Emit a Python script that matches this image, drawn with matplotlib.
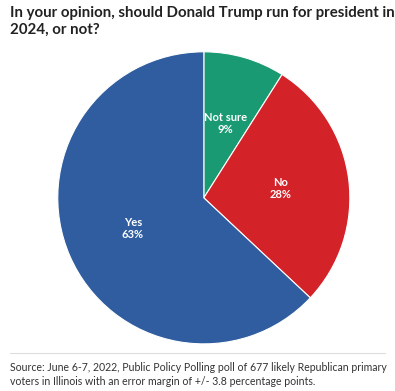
import matplotlib.pyplot as plt
import numpy as np

# ----------------------------------------------------------------------
#   Data
# ----------------------------------------------------------------------
labels  = ['Not sure', 'No', 'Yes']
values  = [9, 28, 63]
colors  = ['#1a9a72', '#d42229', '#2f5d9f']

title  = 'In your opinion, should Donald Trump run for president in\n2024, or not?'
source = ('Source: June 6-7, 2022, Public Policy Polling poll of 677 likely Republican primary\n'
          'voters in Illinois with an error margin of +/- 3.8 percentage points.')

plt.rcParams['font.family'] = ['Lato', 'DejaVu Sans']

fig = plt.figure(figsize=(3.95, 3.91), dpi=100)

ax = fig.add_axes([0.516 - 0.37, 0.494 - 0.3735, 0.74, 0.747])
wedges, _ = ax.pie(values, colors=colors, startangle=90, counterclock=False,
                   wedgeprops=dict(edgecolor='white', linewidth=0.8))
ax.set_xlim(-1, 1)
ax.set_ylim(-1, 1)
ax.set_aspect('equal')

# slice labels
for w, lab, v in zip(wedges, labels, values):
    ang = np.deg2rad((w.theta1 + w.theta2) / 2)
    r = 0.53
    ax.text(r * np.cos(ang), r * np.sin(ang), f'{lab}\n{v}%', ha='center', va='center',
            color='white', fontsize=8, fontweight='bold', linespacing=1.1)

fig.text(0.025, 0.985, title, ha='left', va='top', fontsize=10.8, fontweight='bold',
         color='#222222', linespacing=1.25)

fig.add_artist(plt.Line2D([0.025, 0.975], [0.097, 0.097], color='#dddddd', linewidth=0.8))
fig.text(0.025, 0.075, source, ha='left', va='top', fontsize=7.6, color='#333333',
         linespacing=1.35)

fig.savefig('out.png', dpi=100)
